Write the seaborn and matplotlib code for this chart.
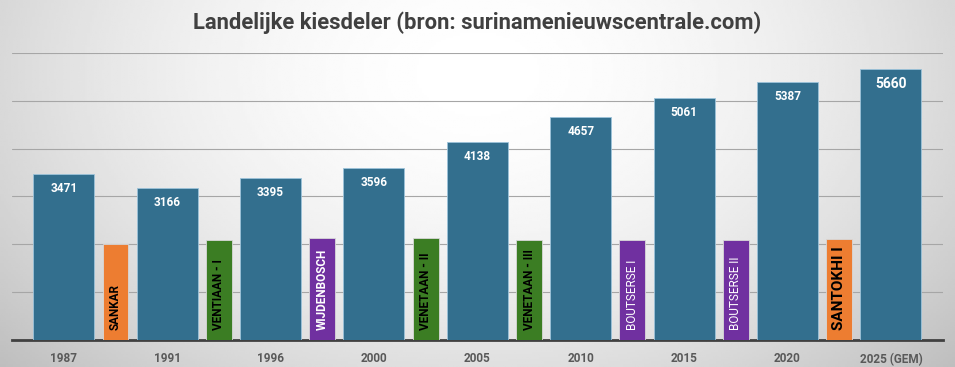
#!/usr/bin/env python3
"""Landelijke kiesdeler per verkiezingsjaar, met de regeringen ertussen."""

import matplotlib

matplotlib.use("Agg")
import matplotlib.pyplot as plt
import numpy as np
import pandas as pd
import seaborn as sns

years = ["1987", "1991", "1996", "2000", "2005", "2010", "2015", "2020", "2025 (GEM)"]
kiesdeler = [3471, 3166, 3395, 3596, 4138, 4657, 5061, 5387, 5660]

governments = [
    "SANKAR", "VENTIAAN - I", "WIJDENBOSCH", "VENETAAN - II",
    "VENETAAN - III", "BOUTSERSE I", "BOUTSERSE II", "SANTOKHI I",
]
gov_heights = [2010, 2090, 2130, 2130, 2090, 2090, 2090, 2120]

BAR_BLUE = "#336F8E"
ORANGE, GREEN, PURPLE = "#ED7D31", "#3B7D23", "#7030A0"
gov_style = {
    "SANKAR": (ORANGE, "black", "bold", 8.5),
    "VENTIAAN - I": (GREEN, "black", "bold", 8.5),
    "WIJDENBOSCH": (PURPLE, "white", "bold", 8.5),
    "VENETAAN - II": (GREEN, "black", "bold", 8.5),
    "VENETAAN - III": (GREEN, "black", "bold", 8.5),
    "BOUTSERSE I": (PURPLE, "white", "normal", 8.5),
    "BOUTSERSE II": (PURPLE, "white", "normal", 8.5),
    "SANTOKHI I": (ORANGE, "black", "bold", 11),
}
FONT = ["Roboto", "DejaVu Sans"]

sns.set_theme(style="white")
plt.rcParams["font.family"] = FONT

fig = plt.figure(figsize=(9.55, 3.67), dpi=100)

# radial grey background, light near the top centre
bg = fig.add_axes([0, 0, 1, 1], zorder=-5)
gx, gy = np.meshgrid(np.linspace(0, 1, 400), np.linspace(0, 1, 160))
r = np.sqrt(((gx - 0.5) / 0.62) ** 2 + ((gy - 0.2) / 1.1) ** 2)
shade = 1.0 - 0.22 * np.clip(r, 0, 1.2) ** 1.8
bg.imshow(shade, cmap="gray", vmin=0, vmax=1, aspect="auto", extent=(0, 1, 1, 0))
bg.axis("off")

ax = fig.add_axes([0.0126, 0.0736, 0.9744, 0.7824])
ax.set_facecolor("none")

main_df = pd.DataFrame({"pos": np.arange(len(years)), "jaar": years, "kiesdeler": kiesdeler})
gov_df = pd.DataFrame({
    "pos": np.arange(len(governments)) + 0.5,
    "regering": governments,
    "hoogte": gov_heights,
})

sns.barplot(data=main_df, x="pos", y="kiesdeler", native_scale=True, width=0.59,
            color=BAR_BLUE, saturation=1, edgecolor="#9CC3DA", linewidth=0.6,
            ax=ax, zorder=3)
sns.barplot(data=gov_df, x="pos", y="hoogte", hue="regering", native_scale=True,
            width=0.25, palette={g: gov_style[g][0] for g in governments},
            saturation=1, legend=False, edgecolor="#d8d8d8", linewidth=0.6,
            ax=ax, zorder=3)

for i, (pos, val) in enumerate(zip(main_df["pos"], main_df["kiesdeler"])):
    last = i == len(years) - 1
    ax.annotate(str(val), (pos, val), xytext=(0, -8), textcoords="offset pixels",
                ha="center", va="top", color="white", fontweight="bold",
                fontsize=10 if last else 8.5, zorder=5)

for pos, name in zip(gov_df["pos"], gov_df["regering"]):
    _, tcol, weight, size = gov_style[name]
    ax.annotate(name, (pos, 0), xytext=(0, 10), textcoords="offset pixels",
                rotation=90, ha="center", va="bottom", color=tcol,
                fontweight=weight, fontsize=size, zorder=5)

ax.set_xlim(-0.5, len(years) - 0.5)
ax.set_ylim(0, 6000)
ax.set_yticks(range(1000, 6001, 1000))
ax.yaxis.grid(True, color="#a6a6a6", linewidth=0.8, zorder=0)
ax.set_axisbelow(True)
ax.tick_params(axis="y", left=False, labelleft=False)
ax.set_xticks(main_df["pos"])
ax.set_xticklabels(years, fontweight="bold", color="#595959", fontsize=8.5)
ax.tick_params(axis="x", bottom=False, pad=3)
ax.set_xlabel("")
ax.set_ylabel("")
for side in ("top", "left", "right"):
    ax.spines[side].set_visible(False)
ax.spines["bottom"].set_color("#404040")
ax.spines["bottom"].set_linewidth(2)
ax.spines["bottom"].set_zorder(2)

fig.text(0.5, 0.937, "Landelijke kiesdeler (bron: surinamenieuwscentrale.com)",
         ha="center", va="center", fontsize=15.8, fontweight="bold", color="#404040")

fig.savefig("out.png", dpi=100)
